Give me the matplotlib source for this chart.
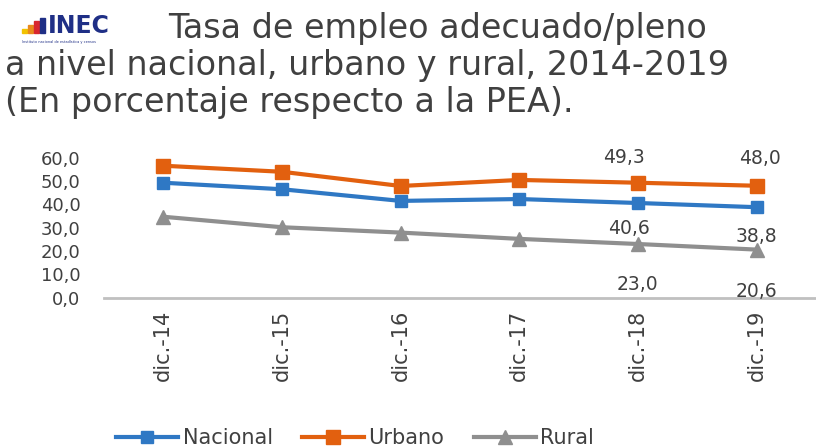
import matplotlib
matplotlib.use("Agg")
import matplotlib.pyplot as plt
from matplotlib.patches import Rectangle

# datos (%)
periodos = ["dic.-14", "dic.-15", "dic.-16", "dic.-17", "dic.-18", "dic.-19"]
nacional = [49.3, 46.5, 41.5, 42.3, 40.6, 38.8]
urbano = [56.6, 54.0, 47.9, 50.5, 49.3, 48.0]
rural = [34.7, 30.2, 27.9, 25.2, 23.0, 20.6]
yticks = [0, 10, 20, 30, 40, 50, 60]

# etiquetas visibles solo en los dos últimos años
etiquetas = [
    # (serie, indice, texto, dx px, dy px)
    ("urbano", 4, "49,3", -14, 25),
    ("urbano", 5, "48,0", 3, 27),
    ("nacional", 4, "40,6", -9, -25),
    ("nacional", 5, "38,8", 0, -29),
    ("rural", 4, "23,0", -1, -40),
    ("rural", 5, "20,6", 0, -42),
]

AZUL = "#2f78c4"
NARANJA = "#e2600f"
GRIS = "#8f8f8f"
TEXTO = "#404040"

plt.rcParams['font.family'] = ['DejaVu Sans']

fig = plt.figure(figsize=(8.16, 4.47), dpi=100)
ax = fig.add_axes([104 / 816, (447 - 297.6) / 447, 1 - 104 / 816, 139.8 / 447])

x = list(range(len(periodos)))
ax.plot(x, nacional, color=AZUL, lw=3, marker="s", ms=8, label="Nacional")
ax.plot(x, urbano, color=NARANJA, lw=3, marker="s", ms=10, label="Urbano")
ax.plot(x, rural, color=GRIS, lw=3, marker="^", ms=10, label="Rural")

series = {"nacional": nacional, "urbano": urbano, "rural": rural}
for nombre, i, txt, dx, dy in etiquetas:
    ax.annotate(txt, xy=(i, series[nombre][i]), xytext=(dx, dy),
                textcoords="offset pixels", ha="center", va="center",
                fontsize=13.5, color=TEXTO)

ax.set_xlim(-0.5, len(periodos) - 0.5)
ax.set_ylim(0, 60)
ax.set_yticks(yticks)
ax.set_yticklabels([f"{v:.1f}".replace(".", ",") for v in yticks],
                   fontsize=13, color=TEXTO)
ax.set_xticks(x)
ax.set_xticklabels(periodos, rotation=90, fontsize=15, color=TEXTO)
ax.xaxis.set_tick_params(length=0, pad=9)
ax.yaxis.set_tick_params(length=0, pad=17)
for s in ["top", "right", "left"]:
    ax.spines[s].set_visible(False)
ax.spines["bottom"].set_color("#c0c0c0")
ax.spines["bottom"].set_linewidth(2)
ax.patch.set_alpha(0)

leg = fig.legend(loc="center", bbox_to_anchor=(0.435, 0.02), ncol=3,
                 frameon=False, fontsize=15, handlelength=3,
                 columnspacing=1.4, handletextpad=0.2)
for t in leg.get_texts():
    t.set_color(TEXTO)

# título
fig.text(168 / 816, 1 - 38 / 447, "Tasa de empleo adecuado/pleno",
         fontsize=24, color=TEXTO, va="baseline", ha="left")
fig.text(5 / 816, 1 - 75 / 447, "a nivel nacional, urbano y rural, 2014-2019",
         fontsize=24, color=TEXTO, va="baseline", ha="left")
fig.text(5 / 816, 1 - 112 / 447, "(En porcentaje respecto a la PEA).",
         fontsize=24, color=TEXTO, va="baseline", ha="left")

# logo INEC
barras = [(22, 4, "#f2c200"), (28, 8, "#e8891c"), (34, 12, "#d8262e"), (40, 15, "#1f2f86")]
for bx, bh, bc in barras:
    fig.patches.append(Rectangle((bx / 816, 1 - 33 / 447), 5 / 816, bh / 447,
                                 transform=fig.transFigure, color=bc))
fig.text(48 / 816, 1 - 33 / 447, "INEC", fontsize=17, fontweight="bold",
         color="#1f2f86", va="baseline", ha="left")
fig.text(22 / 816, 1 - 42 / 447, "Instituto nacional de estadística y censos",
         fontsize=2.5, color="#1f2f86", va="center", ha="left")

fig.savefig("out.png", dpi=100)
